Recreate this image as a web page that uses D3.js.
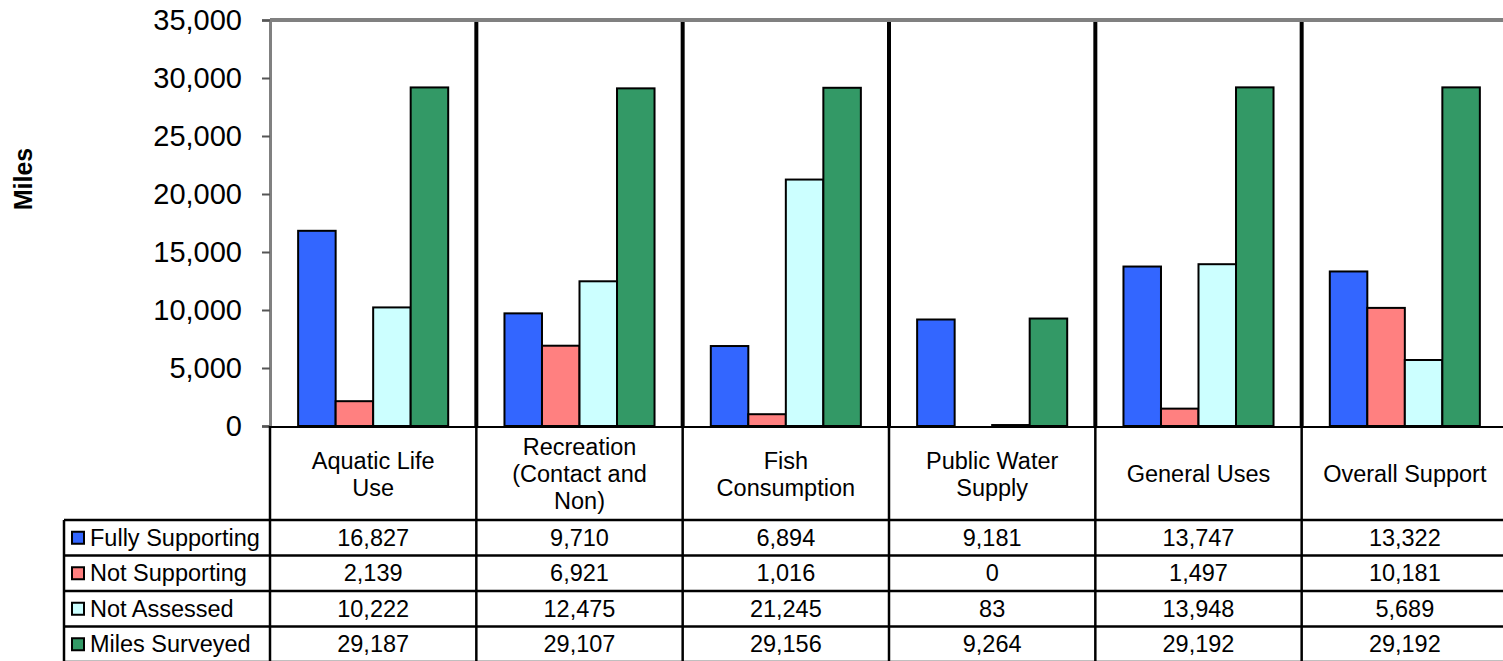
<!DOCTYPE html>
<html lang="en">
<head>
    <meta charset="UTF-8">
    <script src="https://cdnjs.cloudflare.com/ajax/libs/d3/7.8.5/d3.min.js"></script>
    <title>Designated use support (miles)</title>
    <style>
        body { margin: 0; background: #fff; overflow: hidden; }
        svg { display: block; }
        text { font-family: Arial, "Liberation Sans", sans-serif; fill: #000; }
    </style>
</head>
<body>
    <svg width="1503" height="661"></svg>
    <script>
        const categories = ["Aquatic Life Use", "Recreation (Contact and Non)", "Fish Consumption",
            "Public Water Supply", "General Uses", "Overall Support"]
        const categoryLines = [["Aquatic Life", "Use"], ["Recreation", "(Contact and", "Non)"],
            ["Fish", "Consumption"], ["Public Water", "Supply"], ["General Uses"], ["Overall Support"]]
        const seriesNames = ["Fully Supporting", "Not Supporting", "Not Assessed", "Miles Surveyed"]
        const seriesColors = ["#3366ff", "#ff8080", "#ccffff", "#339966"]

        const fullySupporting = [16827, 9710, 6894, 9181, 13747, 13322]
        const notSupporting = [2139, 6921, 1016, 0, 1497, 10181]
        const notAssessed = [10222, 12475, 21245, 83, 13948, 5689]
        const milesSurveyed = [29187, 29107, 29156, 9264, 29192, 29192]
        const yTicks = [0, 5000, 10000, 15000, 20000, 25000, 30000, 35000]

        const seriesValues = [fullySupporting, notSupporting, notAssessed, milesSurveyed]

        const svg = d3.select("svg")
        const plotL = 270, plotR = 1508, plotT = 20, plotB = 426
        const headerBottom = 520, rowH = 35.5
        const tableFont = "23.5px"

        const x0 = d3.scaleBand().domain(categories).range([plotL, plotR])
        const x1 = d3.scaleBand().domain(seriesNames).range([0, x0.bandwidth()]).paddingOuter(0.75)
        const y = d3.scaleLinear().domain([0, 35000]).range([plotB, plotT])
        const fmt = d3.format(",")

        // top border of plot area
        svg.append("line")
            .attr("x1", plotL).attr("x2", 1503).attr("y1", plotT).attr("y2", plotT)
            .style("stroke", "#808080").style("stroke-width", 4)

        // category separators
        svg.append("g").selectAll("line")
            .data(categories.slice(1))
            .enter()
            .append("line")
            .attr("x1", d => x0(d)).attr("x2", d => x0(d))
            .attr("y1", plotT + 2).attr("y2", plotB)
            .style("stroke", "#000").style("stroke-width", 4)

        // bars
        const groups = svg.append("g")
            .selectAll("g")
            .data(categories)
            .enter()
            .append("g")
            .attr("transform", d => `translate(${x0(d)},0)`)

        groups.selectAll("rect")
            .data((c, i) => seriesNames.map((s, j) => ({ s, j, v: seriesValues[j][i] })))
            .enter()
            .append("rect")
            .attr("x", d => x1(d.s))
            .attr("width", x1.bandwidth())
            .attr("y", d => y(d.v))
            .attr("height", d => plotB - y(d.v))
            .style("fill", d => seriesColors[d.j])
            .style("stroke", "#000")
            .style("stroke-width", 2)

        // y axis
        const yAxis = svg.append("g")
            .attr("transform", `translate(${plotL},0)`)
            .call(d3.axisLeft(y).tickValues(yTicks).tickFormat(fmt).tickSize(8).tickPadding(20))
        yAxis.select(".domain").style("stroke", "#808080").style("stroke-width", 3)
        yAxis.selectAll(".tick line").style("stroke", "#555").style("stroke-width", 2)
        yAxis.selectAll(".tick text").style("font-size", "29px")
            .style("font-family", "Arial, 'Liberation Sans', sans-serif")

        svg.append("text")
            .attr("transform", "translate(32,179) rotate(-90)")
            .style("text-anchor", "middle")
            .style("font-size", "25px")
            .style("font-weight", "bold")
            .text("Miles")

        // data table
        const table = svg.append("g")
        const tableBottom = headerBottom + rowH * 4
        table.append("line")
            .attr("x1", plotL).attr("x2", 1503).attr("y1", plotB + 1).attr("y2", plotB + 1)
            .style("stroke", "#000").style("stroke-width", 2)
        d3.range(5).forEach(r => {
            table.append("line")
                .attr("x1", 64).attr("x2", 1503)
                .attr("y1", headerBottom + r * rowH).attr("y2", headerBottom + r * rowH)
                .style("stroke", "#000").style("stroke-width", 2.5)
        })
        table.append("line")
            .attr("x1", 64).attr("x2", 64).attr("y1", headerBottom).attr("y2", tableBottom)
            .style("stroke", "#000").style("stroke-width", 2.5)
        table.selectAll("line.v")
            .data(categories)
            .enter()
            .append("line")
            .attr("class", "v")
            .attr("x1", d => x0(d)).attr("x2", d => x0(d))
            .attr("y1", plotB).attr("y2", tableBottom)
            .style("stroke", "#000").style("stroke-width", 2.5)

        // header labels
        const headY = (plotB + headerBottom) / 2 + 1
        categories.forEach((c, i) => {
            const lines = categoryLines[i]
            const t = table.append("text")
                .attr("x", x0(c) + x0.bandwidth() / 2)
                .attr("y", headY - (lines.length - 1) * 13.5)
                .style("text-anchor", "middle")
                .style("font-size", tableFont)
            lines.forEach((l, k) => {
                t.append("tspan")
                    .attr("x", x0(c) + x0.bandwidth() / 2)
                    .attr("dy", k === 0 ? "0.35em" : 27)
                    .text(l)
            })
        })

        // rows
        seriesNames.forEach((s, j) => {
            const cy = headerBottom + j * rowH + rowH / 2
            table.append("rect")
                .attr("x", 72).attr("y", cy - 6).attr("width", 12).attr("height", 12)
                .style("fill", seriesColors[j]).style("stroke", "#000").style("stroke-width", 2)
            table.append("text")
                .attr("x", 90).attr("y", cy).attr("dy", "0.35em")
                .style("font-size", tableFont)
                .text(s)
            table.selectAll(null)
                .data(seriesValues[j])
                .enter()
                .append("text")
                .attr("x", (d, i) => x0(categories[i]) + x0.bandwidth() / 2)
                .attr("y", cy).attr("dy", "0.35em")
                .style("text-anchor", "middle")
                .style("font-size", tableFont)
                .text(d => fmt(d))
        })
    </script>
</body>
</html>
